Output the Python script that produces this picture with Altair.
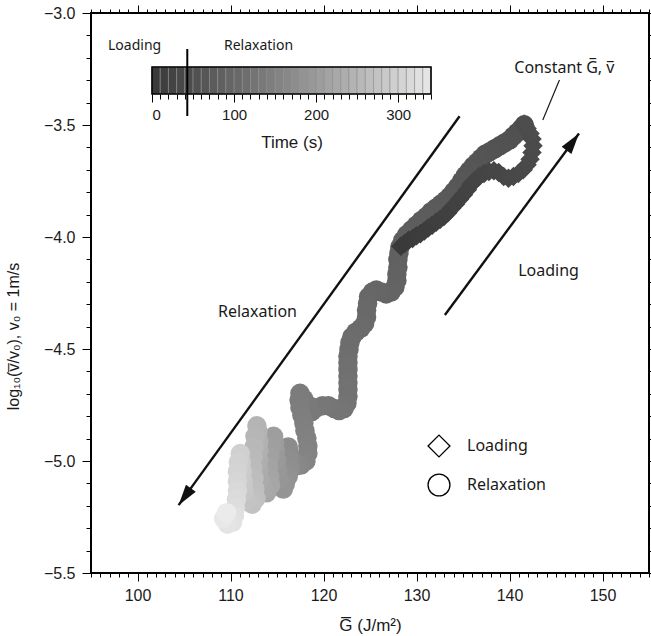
import math
import altair as alt
import pandas as pd

# ---- measured trace: loading phase (diamonds) ----
load_G = [128.32, 128.74, 129.16, 129.58, 130.00, 130.42, 130.84, 131.26, 131.68, 132.11,
          132.53, 132.95, 133.37, 133.79, 134.21, 134.63, 135.05, 135.47, 135.89, 136.32,
          136.74, 137.26, 137.79, 138.32, 138.84, 139.37, 139.89, 140.42, 140.95, 141.47,
          141.89, 142.21, 142.42, 142.53, 142.42, 142.21, 141.89, 141.68, 141.58]
load_L = [-4.041, -4.028, -4.015, -4.007, -3.994, -3.986, -3.973, -3.960, -3.947, -3.934,
          -3.922, -3.909, -3.892, -3.870, -3.853, -3.832, -3.811, -3.789, -3.764, -3.747,
          -3.730, -3.717, -3.708, -3.704, -3.712, -3.730, -3.738, -3.730, -3.717, -3.700,
          -3.678, -3.653, -3.623, -3.593, -3.563, -3.538, -3.516, -3.503, -3.495]
load_t = [0, 1.1, 2.2, 3.3, 4.4, 5.5, 6.6, 7.7, 8.8, 9.9,
          11, 12.1, 13.2, 14.3, 15.4, 16.5, 17.6, 18.7, 19.8, 20.9,
          22, 23.1, 24.2, 25.3, 26.4, 27.5, 28.6, 29.7, 30.8, 31.9,
          33, 34.1, 35.2, 36.3, 37.4, 38.5, 39.6, 40.7, 41.8]

# ---- measured trace: relaxation phase (circles) ----
rel_G = [141.58, 141.26, 140.84, 140.42, 140.00, 139.47, 138.95, 138.42, 137.89, 137.37,
         136.95, 136.53, 136.11, 135.68, 135.26, 134.84, 134.42, 134.00, 133.58, 133.16,
         132.63, 132.11, 131.58, 131.05, 130.53, 130.00, 129.47, 128.95, 128.53, 128.21,
         128.11, 128.00, 128.00, 127.89, 127.89, 127.68, 127.26, 126.74, 126.21, 125.68,
         125.26, 124.84, 124.74, 124.63, 124.63, 124.42, 124.00, 123.47, 123.05, 122.84,
         122.74, 122.63, 122.63, 122.63, 122.63, 122.63, 122.63, 122.63, 122.53, 122.21,
         121.68, 121.16, 120.53, 119.89, 119.26, 118.74, 118.32, 117.89, 117.47, 117.37,
         117.47, 117.68, 117.89, 118.00, 118.21, 118.32, 118.32, 118.11, 117.58, 117.05,
         116.63, 116.32, 116.21, 116.32, 116.42, 116.21, 115.89, 115.68, 115.26, 115.05,
         114.95, 114.84, 114.74, 114.63, 114.42, 114.21, 114.11, 114.21, 114.32, 113.89,
         113.47, 113.16, 113.05, 113.05, 113.05, 113.05, 112.95, 112.84, 112.63, 112.53,
         112.42, 112.42, 112.53, 112.63, 112.74, 112.32, 111.79, 111.47, 111.37, 111.26,
         111.16, 111.05, 110.84, 110.74, 110.74, 110.74, 110.63, 110.53, 110.42, 110.21,
         109.68, 109.26, 109.58]
rel_L = [-3.499, -3.516, -3.533, -3.550, -3.567, -3.580, -3.593, -3.606, -3.619, -3.631,
         -3.648, -3.666, -3.683, -3.704, -3.725, -3.751, -3.776, -3.798, -3.819, -3.836,
         -3.853, -3.870, -3.887, -3.909, -3.926, -3.947, -3.968, -3.990, -4.015, -4.045,
         -4.071, -4.101, -4.135, -4.165, -4.195, -4.224, -4.246, -4.254, -4.246, -4.237,
         -4.246, -4.267, -4.297, -4.327, -4.357, -4.387, -4.408, -4.425, -4.446, -4.472,
         -4.502, -4.532, -4.561, -4.591, -4.621, -4.651, -4.681, -4.711, -4.741, -4.766,
         -4.775, -4.766, -4.753, -4.753, -4.762, -4.779, -4.749, -4.724, -4.698, -4.728,
         -4.762, -4.796, -4.830, -4.864, -4.898, -4.933, -4.967, -5.001, -5.018, -5.022,
         -4.997, -4.962, -4.937, -4.988, -5.031, -5.069, -5.103, -5.125, -5.082, -5.039,
         -4.997, -4.954, -4.916, -4.890, -4.933, -4.980, -5.026, -5.069, -5.108, -5.142,
         -5.125, -5.082, -5.039, -4.997, -4.954, -4.911, -4.869, -4.843, -4.890, -4.937,
         -4.984, -5.031, -5.078, -5.125, -5.167, -5.193, -5.176, -5.133, -5.090, -5.048,
         -5.005, -4.967, -5.005, -5.048, -5.090, -5.133, -5.172, -5.210, -5.244, -5.274,
         -5.282, -5.257, -5.231]
rel_t = [44, 45.2, 46.4, 47.6, 48.8, 50, 51.2, 52.4, 53.6, 54.8,
         56, 57.2, 58.4, 59.6, 60.8, 62, 63.2, 64.4, 65.6, 66.8,
         68, 69.2, 70.4, 71.6, 72.8, 74, 75.2, 76.4, 77.6, 78.8,
         80, 81.4, 82.8, 84.2, 85.6, 87, 88.4, 89.8, 91.2, 92.6,
         94, 95.4, 96.8, 98.2, 99.6, 101, 102.4, 103.8, 105.2, 106.6,
         108, 109.4, 110.8, 112.2, 113.6, 115, 116.4, 117.8, 119.2, 120.6,
         122, 123.4, 124.8, 126.2, 127.6, 129, 131, 133, 135, 137,
         139, 141, 143, 145, 147, 149, 151, 153, 156, 159,
         162, 165, 168, 171, 174, 177, 180, 183, 186, 189,
         192, 195, 198, 201, 204, 207, 210, 213, 216, 219,
         222, 225, 228, 231, 234, 237, 240, 243, 246, 249,
         252, 255, 258, 261, 264, 268, 272, 276, 280, 284,
         288, 292, 296, 300, 304, 308, 312, 316, 320, 324,
         328, 334, 340]

# ---- axis ranges and ticks ----
G_DOMAIN = [95, 155]
L_DOMAIN = [-5.5, -3.0]
T_DOMAIN = [0, 340]
G_MAJOR = [100, 110, 120, 130, 140, 150]
G_MINOR = list(range(95, 156, 1))
L_MAJOR = [-5.5, -5.0, -4.5, -4.0, -3.5, -3.0]
L_MINOR = [round(-5.5 + 0.1 * i, 1) for i in range(26)]
T_MAJOR = [0, 100, 200, 300]
T_MINOR = list(range(0, 341, 10))
T_SWITCH = 43  # end of loading

# ---- annotations ----
arrow_G0 = [134.63, 133.05]
arrow_L0 = [-3.461, -4.348]
arrow_G1 = [104.42, 147.47]
arrow_L1 = [-5.197, -3.538]
note_text = ["Relaxation", "Loading", "Constant G\u0305, v\u0305"]
note_G = [112.9, 144.2, 145.9]
note_L = [-4.335, -4.152, -3.247]
leader_G = [145.37, 143.58]
leader_L = [-3.299, -3.478]

W, H = 558, 560
AXIS_FONT = "Liberation Sans"
NOTE_FONT = "Noto Sans"
INK = "#1a1a1a"

xs = alt.Scale(domain=G_DOMAIN, nice=False, zero=False)
ys = alt.Scale(domain=L_DOMAIN, nice=False, zero=False)
cs = alt.Scale(domain=T_DOMAIN, range=["#3a3a3a", "#ebebeb"])
cbx = alt.Scale(domain=T_DOMAIN, range=[61, 340], nice=False, zero=False)

pts = pd.concat([
    pd.DataFrame({"G": rel_G, "L": rel_L, "t": rel_t, "phase": "Relaxation"}),
    pd.DataFrame({"G": load_G, "L": load_L, "t": load_t, "phase": "Loading"}),
], ignore_index=True)

anchor = pd.DataFrame({"G": [G_DOMAIN[0]], "L": [L_DOMAIN[0]]})


def ax(orient, values, size, labels=False, title=None, fmt=None, **kw):
    opts = dict(orient=orient, values=values, tickSize=size, labels=labels, grid=False,
                domain=False, tickColor="black", tickWidth=1, title=title,
                labelFont=AXIS_FONT, labelFontSize=16, labelColor=INK,
                titleFont=AXIS_FONT, titleFontSize=17, titleColor=INK,
                titleFontWeight="normal")
    if fmt:
        opts["format"] = fmt
    opts.update(kw)
    return alt.Axis(**opts)


# trace points with the main axes and the symbol legend
points = alt.Chart(pts).mark_point(filled=True, size=380, opacity=1).encode(
    x=alt.X("G:Q", scale=xs,
            axis=ax("bottom", G_MAJOR, 8, True, "G\u0305 (J/m\u00b2)", "d",
                    labelPadding=6, titlePadding=14)),
    y=alt.Y("L:Q", scale=ys,
            axis=ax("left", L_MAJOR, 9, True,
                    "log\u2081\u2080(v\u0305/v\u2080), v\u2080 = 1m/s", ".1f",
                    labelPadding=7, titlePadding=22, titleY=323, titleFontSize=16)),
    color=alt.Color("t:Q", scale=cs, legend=None),
    shape=alt.Shape("phase:N",
                    scale=alt.Scale(domain=["Loading", "Relaxation"], range=["diamond", "circle"]),
                    legend=alt.Legend(title=None, orient="none", legendX=336, legendY=421,
                                      symbolSize=480, symbolFillColor="white",
                                      symbolStrokeColor="black", symbolStrokeWidth=1.3,
                                      symbolOpacity=1, labelFont=NOTE_FONT, labelFontSize=16,
                                      labelColor=INK, rowPadding=11, labelOffset=16)),
)


def frame_axes(xo, yo, xv, yv, xsize, ysize):
    return alt.Chart(anchor).mark_point(opacity=0).encode(
        x=alt.X("G:Q", scale=xs, axis=ax(xo, xv, xsize)),
        y=alt.Y("L:Q", scale=ys, axis=ax(yo, yv, ysize)),
    )


minor_bl = frame_axes("bottom", "left", G_MINOR, L_MINOR, 4, 5)
major_tr = frame_axes("top", "right", G_MAJOR, L_MAJOR, 8, 8)
minor_tr = frame_axes("top", "right", G_MINOR, L_MINOR, 4, 4)

# arrows
arrows = pd.DataFrame({"G0": arrow_G0, "L0": arrow_L0, "G1": arrow_G1, "L1": arrow_L1})
kx, ky = W / (G_DOMAIN[1] - G_DOMAIN[0]), H / (L_DOMAIN[1] - L_DOMAIN[0])
arrows["ang"] = [
    math.degrees(math.atan2((g1 - g0) * kx, (l1 - l0) * ky)) % 360
    for g0, l0, g1, l1 in zip(arrow_G0, arrow_L0, arrow_G1, arrow_L1)
]
shafts = alt.Chart(arrows).mark_rule(strokeWidth=2.4, color="#111").encode(
    x=alt.X("G0:Q", scale=xs, axis=None), y=alt.Y("L0:Q", scale=ys, axis=None),
    x2="G1:Q", y2="L1:Q",
)
heads = alt.Chart(arrows).mark_point(
    shape="M0,0 L0.55,1.9 L-0.55,1.9 Z", filled=True, size=484, color="#111", opacity=1
).encode(
    x=alt.X("G1:Q", scale=xs, axis=None), y=alt.Y("L1:Q", scale=ys, axis=None),
    angle=alt.Angle("ang:Q", scale=None),
)

notes = alt.Chart(pd.DataFrame({"G": note_G, "L": note_L, "txt": note_text})).mark_text(
    font=NOTE_FONT, fontSize=16, color=INK, align="center", baseline="middle"
).encode(
    x=alt.X("G:Q", scale=xs, axis=None), y=alt.Y("L:Q", scale=ys, axis=None), text="txt:N"
)
leader = alt.Chart(pd.DataFrame({"G0": [leader_G[0]], "L0": [leader_L[0]],
                                 "G1": [leader_G[1]], "L1": [leader_L[1]]})).mark_rule(
    strokeWidth=1.2, color=INK
).encode(
    x=alt.X("G0:Q", scale=xs, axis=None), y=alt.Y("L0:Q", scale=ys, axis=None),
    x2="G1:Q", y2="L1:Q",
)

# time colour bar, drawn in steps of 10 s
cells = pd.DataFrame({"t0": T_MINOR[:-1], "t1": T_MINOR[1:]})
CB_TOP, CB_BOT = 54, 81
CB_OFFSET = -(H - CB_BOT)
cb_cells = alt.Chart(cells).mark_rect(stroke="#8c8c8c", strokeWidth=0.6).encode(
    x=alt.X("t0:Q", scale=cbx,
            axis=ax("bottom", T_MAJOR, 8, True, "Time  (s)", "d", offset=CB_OFFSET,
                    labelPadding=5, titlePadding=12, labelFontSize=15)),
    x2="t1:Q",
    y=alt.value(CB_TOP), y2=alt.value(CB_BOT),
    color=alt.Color("t0:Q", scale=cs, legend=None),
)
cb_minor = alt.Chart(pd.DataFrame({"t0": [0]})).mark_point(opacity=0).encode(
    x=alt.X("t0:Q", scale=cbx, axis=ax("bottom", T_MINOR, 5, offset=CB_OFFSET)),
    y=alt.value(CB_TOP),
)
cb_box = alt.Chart(pd.DataFrame({"a": [T_DOMAIN[0]], "b": [T_DOMAIN[1]]})).mark_rect(
    fill=None, stroke="black", strokeWidth=1.6
).encode(
    x=alt.X("a:Q", scale=cbx, axis=None), x2="b:Q",
    y=alt.value(CB_TOP), y2=alt.value(CB_BOT),
)
cb_switch = alt.Chart(pd.DataFrame({"t": [T_SWITCH]})).mark_rule(
    strokeWidth=2, color="black"
).encode(
    x=alt.X("t:Q", scale=cbx, axis=None), y=alt.value(36), y2=alt.value(103),
)
cb_labels = alt.Chart(pd.DataFrame({"t": [-53.6, 87.7], "txt": ["Loading", "Relaxation"]})).mark_text(
    font=NOTE_FONT, fontSize=14, color=INK, align="left", baseline="middle"
).encode(
    x=alt.X("t:Q", scale=cbx, axis=None), y=alt.value(33), text="txt:N",
)

chart = alt.layer(
    minor_bl, major_tr, minor_tr,
    cb_cells, cb_minor, cb_box, cb_switch, cb_labels,
    shafts, heads, leader, notes, points,
).resolve_scale(
    x="independent", y="independent"
).properties(
    width=W, height=H, autosize="none",
    padding={"left": 91, "top": 13, "right": 2, "bottom": 63},
).configure_view(
    stroke="black", strokeWidth=2
)

chart.save("out.html", embed_options={"renderer": "svg", "actions": False})
